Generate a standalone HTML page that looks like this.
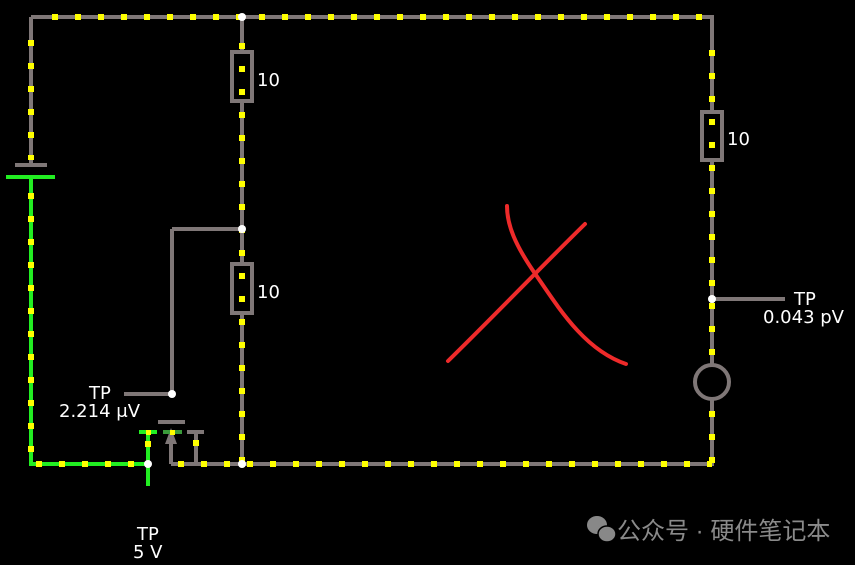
<!DOCTYPE html>
<html><head><meta charset="utf-8"><style>
html,body{margin:0;padding:0;background:#000;width:855px;height:565px;overflow:hidden}
svg{display:block}
text{font-family:"DejaVu Sans","Liberation Sans",sans-serif;fill:#fff}
</style></head><body>
<svg width="855" height="565" viewBox="0 0 855 565">
<g stroke="#7f7777" stroke-width="4" fill="none">
<path d="M31 17H712V464H171M31 17V165M242 17V464M172 229H242M172 229V394M124 394H172M712 299H785M196 432V464M171 464V440"/>
<path d="M15 165H47" stroke-width="4"/>
<path d="M158 422H185"/>
<path d="M187 432H204"/>
<rect x="232" y="52" width="20" height="49" fill="#000"/>
<rect x="232" y="264" width="20" height="49" fill="#000"/>
<rect x="702" y="112" width="20" height="48" fill="#000"/>
<circle cx="712" cy="382" r="17" fill="#000"/>
</g>
<polygon points="171,428 165,444 177,444" fill="#7f7777"/>
<g stroke="#22ee22" stroke-width="4" fill="none">
<path d="M6 177H55M31 177V464H148M148 432V486M139 432H157"/>
<path d="M163 432H182" stroke="#3a9a3a"/>
</g>
<g stroke="#ffff00" stroke-width="6" fill="none" stroke-dasharray="6 17">
<path d="M52 17H712"/>
<path d="M31 40V160"/>
<path d="M31 185V464H148" stroke-dashoffset="-8"/>
<path d="M172 464H712" stroke-dashoffset="-6"/>
<path d="M242 40V464" stroke-dashoffset="-3"/>
<path d="M712 40V362" stroke-dashoffset="-10"/>
<path d="M712 407V464" stroke-dashoffset="-4"/>
<path d="M148 441V455"/>
<path d="M196 440V455"/>
</g>
<g fill="#ffff00"><rect x="170" y="430" width="5" height="5"/><rect x="146" y="430" width="5" height="5"/></g>
<g fill="#fff">
<circle cx="242" cy="17" r="4"/><circle cx="242" cy="229" r="4"/><circle cx="242" cy="464" r="4"/>
<circle cx="172" cy="394" r="4"/><circle cx="148" cy="464" r="4"/><circle cx="712" cy="299" r="4"/>
</g>
<g font-size="18">
<text x="257" y="86">10</text>
<text x="257" y="298">10</text>
<text x="727" y="145">10</text>
<text x="89" y="399">TP</text>
<text x="59" y="417">2.214 μV</text>
<text x="137" y="540">TP</text>
<text x="133" y="558">5 V</text>
<text x="794" y="305">TP</text>
<text x="763" y="323">0.043 pV</text>
</g>
<g stroke="#ee2a2a" stroke-width="4" fill="none" stroke-linecap="round">
<path d="M507 206C507 225 515 245 536 275C560 310 585 350 626 364"/>
<path d="M585 224C540 268 490 320 448 361"/>
</g>
<g fill="#888">
<ellipse cx="597" cy="525" rx="10" ry="9"/><ellipse cx="607" cy="534" rx="9" ry="8" stroke="#000" stroke-width="1.5"/>
</g>
<text x="617" y="539" font-size="24" style="fill:#8a8a8a;font-family:'Liberation Sans','Noto Sans CJK SC',sans-serif">公众号 · 硬件笔记本</text>
</svg>
</body></html>
